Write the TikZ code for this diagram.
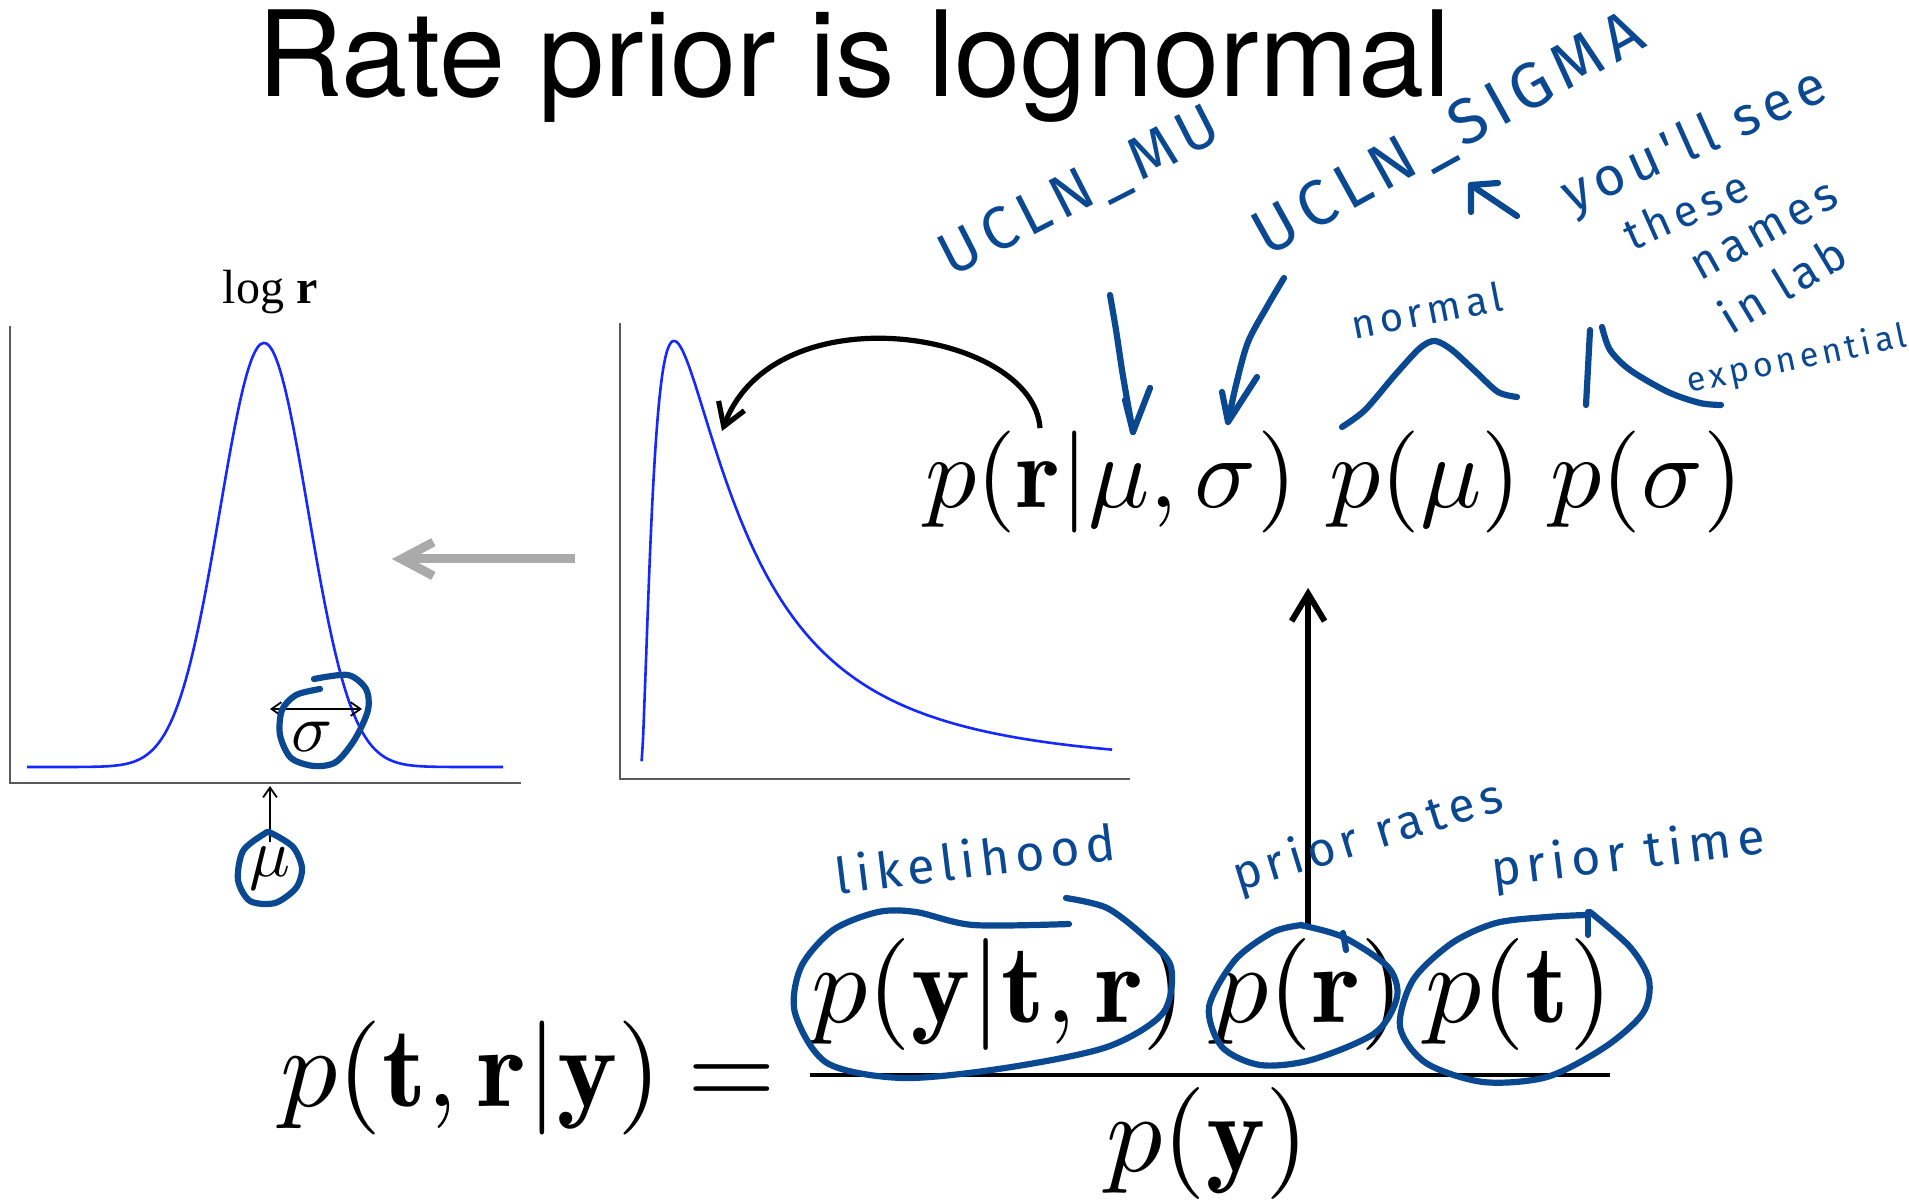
\RequirePackage{fix-cm}
\documentclass[tikz,border=0pt]{standalone}
\usepackage{amsmath}
\usepackage{graphicx}
\usepackage{fontspec}
\newfontfamily\titlefont{TeX Gyre Heros}
\newfontfamily\plotfont{Liberation Serif}
\newfontfamily\handfont[LetterSpace=12]{Fira Sans}
\usetikzlibrary{arrows.meta,calc}
\definecolor{curveblue}{RGB}{20,40,255}
\definecolor{handblue}{RGB}{10,72,145}
\definecolor{arrowgray}{RGB}{170,170,170}
\definecolor{axisgray}{RGB}{90,90,90}
\newcommand{\bigmath}[1]{\scalebox{5.1}{$#1$}}
\newcommand{\eqmath}[1]{\scalebox{5.6}{$#1$}}
\newcommand{\lhsmath}[1]{\scalebox{5.7}{$#1$}}
\newcommand{\midmath}[1]{\scalebox{3.4}{$#1$}}
\tikzset{
  axisline/.style={draw=axisgray,line width=0.75pt},
  densitycurve/.style={draw=curveblue,line width=1.3pt},
  hand/.style={draw=handblue,line width=3.1pt,line cap=round,line join=round},
  handtext/.style={text=handblue,font=\handfont\fontsize{#1}{#1}\selectfont,inner sep=0pt},
  eq/.style={inner sep=0pt,anchor=base west},
  smallmath/.style={inner sep=0pt},
  thinarrow/.style={draw=black,line width=0.9pt},
  grayarrow/.style={draw=arrowgray,line width=4.5pt,-{Straight Barb[angle=56:18pt]}},
  bigarrow/.style={draw=black,line width=2.6pt,-{Straight Barb[angle=64:13pt]}},
  uparrow/.style={draw=black,line width=3pt,-{Straight Barb[angle=62:16pt]}}
}
\begin{document}
\begin{tikzpicture}[x=0.5pt,y=-0.5pt]
\useasboundingbox[fill=white] (0,0) rectangle (1909,1202);

% title
\node[anchor=base west,inner sep=0pt,font=\titlefont\fontsize{59.5}{70}\selectfont] (title) at (257,97) {Rate prior is lognormal};

% left plot: normal on log scale
\node[inner sep=0pt,font=\plotfont\fontsize{24}{28}\selectfont] (logr) at (270,292) {log \textbf{r}};
\draw[axisline] (10,326) -- (10,783) -- (521,783);
\draw[densitycurve] plot[domain=27:503,samples=160,smooth] (\x,{767-424*exp(-pow((\x-264)/44,2)/2)});
\node[smallmath] (sig) at (312,737) {\midmath{\sigma}};
\node[smallmath] (mu) at (270,868) {\midmath{\mu}};
\coordinate (sigL) at (270,709);
\coordinate (sigR) at (362,709);
\draw[thinarrow,{Straight Barb[angle=70:6pt]}-{Straight Barb[angle=70:6pt]}] (sigL) -- (sigR);
\coordinate (muaxis) at (mu.north |- 0,786);
\draw[thinarrow,-{Straight Barb[angle=70:6pt]}] ([yshift=2pt]mu.north) -- (muaxis);

% right plot: lognormal
\draw[axisline] (620,323) -- (620,779) -- (1130,779);
\draw[densitycurve] plot[domain=641.6:1112,samples=320,smooth] (\x,{767-426*exp(-pow(ln((\x-640)/34),2)/2.163)});

% gray arrow between plots
\coordinate (lnplot) at (575,559);
\coordinate (nplot) at (392,559);
\draw[grayarrow] (lnplot) -- (nplot);

% top formula
\node[eq] (prms) at (925,508) {\bigmath{p(\mathbf{r}|\mu,\sigma)}};
\node[eq] (pmu) at (1329,508) {\bigmath{p(\mu)}};
\node[eq] (psig) at (1550,508) {\bigmath{p(\sigma)}};
\coordinate (lnpeak) at (722,431);
\draw[bigarrow] ($(prms.north west)+(115,-3)$) .. controls (1033,330) and (775,290) .. (lnpeak);

% bottom equation
\node[eq] (lhs) at (280,1106) {\lhsmath{p(\mathbf{t},\mathbf{r}|\mathbf{y})}};
\node[eq] (eqsign) at (687,1106) {\lhsmath{=}};
\node[eq] (lik) at (811,1022) {\eqmath{p(\mathbf{y}|\mathbf{t},\mathbf{r})}};
\node[eq] (pr) at (1212,1022) {\eqmath{p(\mathbf{r})}};
\node[eq] (pt) at (1425,1022) {\eqmath{p(\mathbf{t})}};
\draw[line width=2pt] (810,1075) -- (1610,1075);
\node[eq] (py) at (1106,1171) {\eqmath{p(\mathbf{y})}};

% arrow from p(r) to top formula
\draw[uparrow] ([yshift=6.5pt]pr.north) -- ([yshift=-27pt]prms.south east -| pr.north);

% handwritten annotations
\node[handtext=30,rotate=27] (uclnmu) at (1080,193) {UCLN\_MU};
\node[handtext=32,rotate=29] (uclnsigma) at (1449,136) {UCLN\_SIGMA};
\node[handtext=27,rotate=24] (yousee) at (1695,143) {you'll see};
\node[handtext=22,rotate=24] (these) at (1686,210) {these};
\node[handtext=23,rotate=29] (names) at (1765,232) {names};
\node[handtext=23,rotate=31] (inlab) at (1782,284) {in lab};
\node[handtext=17,rotate=12] (expo) at (1797,360) {exponential};
\node[handtext=20,rotate=11] (normal) at (1427,310) {normal};
\node[handtext=25,rotate=7] (likelihood) at (975,858) {likelihood};
\node[handtext=24,rotate=17] (priorrates) at (1368,838) {prior rates};
\node[handtext=25,rotate=7] (priortime) at (1628,856) {prior time};

% hand-drawn arrows and sketches
\draw[hand] (1517,216) -- (1471,185);
\draw[hand] (1498,183) -- (1471,185) -- (1471,212);
\draw[hand] plot[smooth] coordinates {(1110,295) (1116,330) (1122,370) (1128,405) (1133,432)};
\draw[hand] (1125,400) -- (1133,432) -- (1150,388);
\draw[hand] plot[smooth] coordinates {(1284,278) (1268,305) (1248,342) (1236,385) (1228,422)};
\draw[hand] (1222,392) -- (1228,422) -- (1257,377);
\draw[hand] plot[smooth] coordinates {(1342,427) (1365,410) (1395,375) (1420,348) (1435,341) (1452,350) (1476,372) (1498,392) (1517,397)};
\draw[hand] (1586,405) -- (1590,330);
\draw[hand] plot[smooth] coordinates {(1602,327) (1610,350) (1630,370) (1668,392) (1700,403) (1721,405)};

% hand-drawn circles
\draw[hand] plot[smooth] coordinates {(314,679) (348,675) (366,689) (368,710) (355,739) (336,762) (314,766) (291,758) (280,735) (282,710) (296,695) (320,689)};
\draw[hand] plot[smooth cycle] coordinates {(271,833) (293,847) (302,868) (296,888) (275,903) (250,901) (238,880) (243,851) (264,834)};
\draw[hand] plot[smooth] coordinates {(1066,898) (1107,908) (1145,937) (1171,967) (1163,1013) (1107,1047) (1005,1068) (903,1078) (827,1063) (795,1013) (801,967) (833,930) (878,912) (916,912) (973,925) (1069,924)};
\draw[hand] plot[smooth] coordinates {(1300,925) (1343,937) (1388,967) (1397,997) (1375,1033) (1311,1060) (1260,1065) (1222,1047) (1209,1007) (1235,960) (1273,932) (1302,925)};
\draw[hand] (1343,933) -- (1346,950);
\draw[hand] plot[smooth] coordinates {(1585,915) (1547,917) (1496,923) (1452,943) (1413,980) (1400,1027) (1426,1063) (1483,1082) (1547,1077) (1605,1047) (1643,1013) (1649,980) (1630,947) (1590,912)};
\draw[hand] (1588,912) -- (1588,935);
\end{tikzpicture}
\end{document}
